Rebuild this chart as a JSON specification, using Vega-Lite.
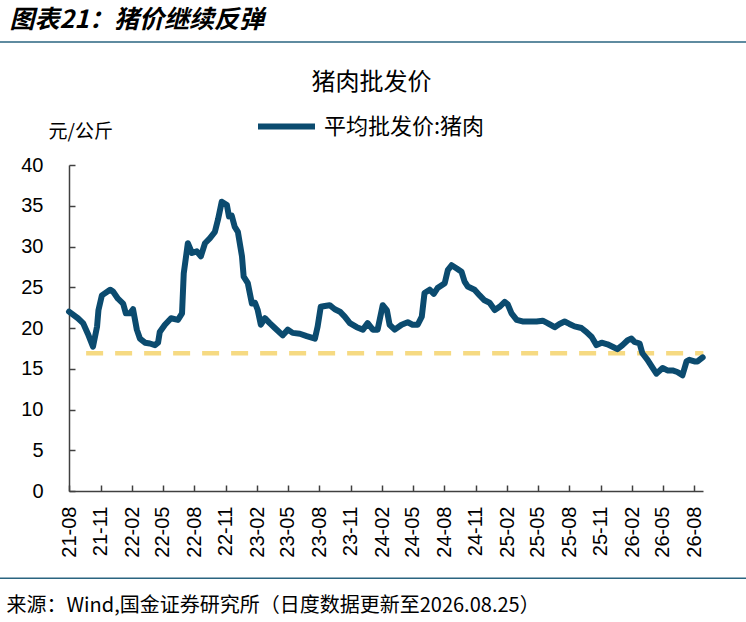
{
  "$schema": "https://vega.github.io/schema/vega-lite/v6.json",
  "width": 634,
  "height": 326,
  "autosize": "none",
  "padding": {"left": 69, "top": 165, "right": 43, "bottom": 131},
  "background": "white",
  "datasets": {
    "pork": [
      {"date": "2021-08-01", "price": 22.0}, {"date": "2021-08-27", "price": 21.2},
      {"date": "2021-09-11", "price": 20.6}, {"date": "2021-09-25", "price": 19.3},
      {"date": "2021-10-10", "price": 17.7}, {"date": "2021-10-22", "price": 20.2},
      {"date": "2021-10-26", "price": 22.2}, {"date": "2021-11-05", "price": 24.0},
      {"date": "2021-11-29", "price": 24.7}, {"date": "2021-12-07", "price": 24.5},
      {"date": "2021-12-22", "price": 23.6}, {"date": "2022-01-06", "price": 23.0},
      {"date": "2022-01-14", "price": 21.8}, {"date": "2022-01-26", "price": 21.8},
      {"date": "2022-02-04", "price": 22.3}, {"date": "2022-02-15", "price": 19.8},
      {"date": "2022-02-24", "price": 18.7}, {"date": "2022-03-11", "price": 18.2},
      {"date": "2022-03-25", "price": 18.1}, {"date": "2022-04-09", "price": 17.9},
      {"date": "2022-04-18", "price": 18.2}, {"date": "2022-04-23", "price": 19.5},
      {"date": "2022-05-08", "price": 20.4}, {"date": "2022-05-26", "price": 21.2},
      {"date": "2022-06-15", "price": 21.0}, {"date": "2022-06-27", "price": 21.8},
      {"date": "2022-07-02", "price": 26.7}, {"date": "2022-07-14", "price": 30.4},
      {"date": "2022-07-26", "price": 29.2}, {"date": "2022-08-09", "price": 29.4},
      {"date": "2022-08-21", "price": 28.8}, {"date": "2022-09-02", "price": 30.4},
      {"date": "2022-09-16", "price": 31.0}, {"date": "2022-10-01", "price": 31.8},
      {"date": "2022-10-10", "price": 33.3}, {"date": "2022-10-21", "price": 35.5},
      {"date": "2022-11-05", "price": 35.1}, {"date": "2022-11-11", "price": 33.7},
      {"date": "2022-11-19", "price": 33.8}, {"date": "2022-11-28", "price": 32.4},
      {"date": "2022-12-07", "price": 31.8}, {"date": "2022-12-19", "price": 28.8},
      {"date": "2022-12-24", "price": 26.3}, {"date": "2023-01-05", "price": 25.5},
      {"date": "2023-01-17", "price": 23.0}, {"date": "2023-01-26", "price": 23.1},
      {"date": "2023-02-03", "price": 22.2}, {"date": "2023-02-12", "price": 20.4},
      {"date": "2023-02-24", "price": 21.2}, {"date": "2023-03-10", "price": 20.6},
      {"date": "2023-03-25", "price": 20.0}, {"date": "2023-04-17", "price": 19.1},
      {"date": "2023-05-02", "price": 19.8}, {"date": "2023-05-16", "price": 19.4},
      {"date": "2023-06-06", "price": 19.3}, {"date": "2023-06-26", "price": 19.0},
      {"date": "2023-07-20", "price": 18.7}, {"date": "2023-07-28", "price": 20.2},
      {"date": "2023-08-06", "price": 22.6}, {"date": "2023-08-18", "price": 22.7},
      {"date": "2023-09-01", "price": 22.8}, {"date": "2023-09-16", "price": 22.3},
      {"date": "2023-10-01", "price": 22.0}, {"date": "2023-10-15", "price": 21.4},
      {"date": "2023-10-30", "price": 20.6}, {"date": "2023-11-19", "price": 20.1},
      {"date": "2023-12-07", "price": 19.8}, {"date": "2023-12-21", "price": 20.6},
      {"date": "2024-01-05", "price": 19.8}, {"date": "2024-01-19", "price": 19.8},
      {"date": "2024-02-03", "price": 22.8}, {"date": "2024-02-15", "price": 22.2},
      {"date": "2024-02-23", "price": 20.4}, {"date": "2024-03-09", "price": 19.8},
      {"date": "2024-03-29", "price": 20.4}, {"date": "2024-04-16", "price": 20.7},
      {"date": "2024-04-30", "price": 20.4}, {"date": "2024-05-15", "price": 20.4},
      {"date": "2024-05-27", "price": 21.4}, {"date": "2024-06-04", "price": 24.3},
      {"date": "2024-06-19", "price": 24.7}, {"date": "2024-07-01", "price": 24.2},
      {"date": "2024-07-12", "price": 24.9}, {"date": "2024-08-02", "price": 25.5},
      {"date": "2024-08-11", "price": 27.1}, {"date": "2024-08-22", "price": 27.7},
      {"date": "2024-09-06", "price": 27.3}, {"date": "2024-09-20", "price": 26.9},
      {"date": "2024-09-29", "price": 25.7}, {"date": "2024-10-08", "price": 25.1},
      {"date": "2024-10-28", "price": 24.7}, {"date": "2024-11-12", "price": 24.0},
      {"date": "2024-11-26", "price": 23.4}, {"date": "2024-12-11", "price": 23.1},
      {"date": "2024-12-26", "price": 22.2}, {"date": "2025-01-09", "price": 22.6},
      {"date": "2025-01-24", "price": 23.2}, {"date": "2025-02-02", "price": 22.9},
      {"date": "2025-02-13", "price": 21.8}, {"date": "2025-02-28", "price": 21.0},
      {"date": "2025-03-17", "price": 20.8}, {"date": "2025-04-07", "price": 20.8},
      {"date": "2025-04-27", "price": 20.8}, {"date": "2025-05-15", "price": 20.9},
      {"date": "2025-05-29", "price": 20.6}, {"date": "2025-06-19", "price": 20.1},
      {"date": "2025-07-03", "price": 20.5}, {"date": "2025-07-18", "price": 20.8},
      {"date": "2025-08-01", "price": 20.5}, {"date": "2025-08-16", "price": 20.2},
      {"date": "2025-09-05", "price": 20.0}, {"date": "2025-09-20", "price": 19.5},
      {"date": "2025-10-05", "price": 18.9}, {"date": "2025-10-19", "price": 17.9},
      {"date": "2025-11-03", "price": 18.2}, {"date": "2025-11-20", "price": 18.0},
      {"date": "2025-12-05", "price": 17.7}, {"date": "2025-12-19", "price": 17.4},
      {"date": "2026-01-03", "price": 17.9}, {"date": "2026-01-18", "price": 18.5},
      {"date": "2026-01-29", "price": 18.7}, {"date": "2026-02-07", "price": 18.3},
      {"date": "2026-02-22", "price": 18.1}, {"date": "2026-03-02", "price": 16.9},
      {"date": "2026-03-17", "price": 16.1}, {"date": "2026-04-01", "price": 15.1},
      {"date": "2026-04-12", "price": 14.4}, {"date": "2026-04-30", "price": 15.1},
      {"date": "2026-05-14", "price": 14.8}, {"date": "2026-05-29", "price": 14.8},
      {"date": "2026-06-12", "price": 14.6}, {"date": "2026-06-27", "price": 14.2},
      {"date": "2026-07-09", "price": 15.9}, {"date": "2026-07-17", "price": 16.1},
      {"date": "2026-08-01", "price": 15.9}, {"date": "2026-08-10", "price": 15.9},
      {"date": "2026-08-25", "price": 16.4}
    ],
    "level": [
      {"start": "2021-09-20", "end": "2026-08-27", "level": 16.9}
    ]
  },
  "layer": [
    {
      "data": {"values": [{}]},
      "mark": {"type": "rule", "color": "#2A6480", "strokeWidth": 1.5},
      "encoding": {
        "x": {
          "datum": {"year": 2020, "month": 12, "date": 1, "utc": true},
          "type": "temporal",
          "scale": {"type": "utc", "domain": [{"year": 2021, "month": 8, "date": 1, "utc": true}, {"year": 2026, "month": 8, "date": 26, "utc": true}]},
          "axis": {
            "orient": "top",
            "domain": false,
            "ticks": false,
            "labels": false,
            "grid": false,
            "title": "图表21：猪价继续反弹",
            "titleX": -60,
            "titleY": -146,
            "titleAlign": "left",
            "titleBaseline": "middle",
            "titleAngle": 0,
            "titleLimit": 0,
            "titleFont": "Noto Sans CJK SC",
            "titleFontSize": 25,
            "titleFontWeight": "bold",
            "titleFontStyle": "italic",
            "titleColor": "#000000"
          }
        },
        "x2": {"datum": {"year": 2027, "month": 2, "date": 1, "utc": true}},
        "y": {
          "datum": 55.1,
          "type": "quantitative",
          "scale": {"domain": [0, 40], "nice": false},
          "axis": null
        }
      }
    },
    {
      "data": {"values": [{}]},
      "mark": {"type": "rule", "color": "#2A6480", "strokeWidth": 1.5},
      "encoding": {
        "x": {
          "datum": {"year": 2020, "month": 12, "date": 1, "utc": true},
          "type": "temporal",
          "scale": {"type": "utc", "domain": [{"year": 2021, "month": 8, "date": 1, "utc": true}, {"year": 2026, "month": 8, "date": 26, "utc": true}]},
          "axis": null
        },
        "x2": {"datum": {"year": 2027, "month": 2, "date": 1, "utc": true}},
        "y": {
          "datum": -10.7,
          "type": "quantitative",
          "scale": {"domain": [0, 40], "nice": false},
          "axis": null
        }
      }
    },
    {
      "data": {"name": "level"},
      "mark": {"type": "rule", "color": "#F6DA82", "strokeWidth": 4.5, "strokeDash": [17, 12]},
      "encoding": {
        "x": {
          "field": "start",
          "type": "temporal",
          "scale": {"type": "utc", "domain": [{"year": 2021, "month": 8, "date": 1, "utc": true}, {"year": 2026, "month": 8, "date": 26, "utc": true}]},
          "axis": null
        },
        "x2": {"field": "end"},
        "y": {
          "field": "level",
          "type": "quantitative",
          "scale": {"domain": [0, 40], "nice": false},
          "axis": {
            "orient": "right",
            "domain": false,
            "ticks": false,
            "labels": false,
            "grid": false,
            "title": "猪肉批发价",
            "titleX": -332,
            "titleY": -83,
            "titleAlign": "center",
            "titleBaseline": "middle",
            "titleAngle": 0,
            "titleFont": "Noto Sans CJK SC",
            "titleFontSize": 24,
            "titleFontWeight": "normal",
            "titleColor": "#000000"
          }
        }
      }
    },
    {
      "data": {"name": "pork"},
      "mark": {"type": "line", "strokeWidth": 6, "strokeJoin": "round", "strokeCap": "round"},
      "encoding": {
        "x": {
          "field": "date",
          "type": "temporal",
          "scale": {"type": "utc", "domain": [{"year": 2021, "month": 8, "date": 1, "utc": true}, {"year": 2026, "month": 8, "date": 26, "utc": true}]},
          "axis": {
            "orient": "bottom",
            "values": [
              {"year": 2021, "month": 8, "date": 1, "utc": true},
              {"year": 2021, "month": 11, "date": 1, "utc": true},
              {"year": 2022, "month": 2, "date": 1, "utc": true},
              {"year": 2022, "month": 5, "date": 1, "utc": true},
              {"year": 2022, "month": 8, "date": 1, "utc": true},
              {"year": 2022, "month": 11, "date": 1, "utc": true},
              {"year": 2023, "month": 2, "date": 1, "utc": true},
              {"year": 2023, "month": 5, "date": 1, "utc": true},
              {"year": 2023, "month": 8, "date": 1, "utc": true},
              {"year": 2023, "month": 11, "date": 1, "utc": true},
              {"year": 2024, "month": 2, "date": 1, "utc": true},
              {"year": 2024, "month": 5, "date": 1, "utc": true},
              {"year": 2024, "month": 8, "date": 1, "utc": true},
              {"year": 2024, "month": 11, "date": 1, "utc": true},
              {"year": 2025, "month": 2, "date": 1, "utc": true},
              {"year": 2025, "month": 5, "date": 1, "utc": true},
              {"year": 2025, "month": 8, "date": 1, "utc": true},
              {"year": 2025, "month": 11, "date": 1, "utc": true},
              {"year": 2026, "month": 2, "date": 1, "utc": true},
              {"year": 2026, "month": 5, "date": 1, "utc": true},
              {"year": 2026, "month": 8, "date": 1, "utc": true}
            ],
            "format": "%y-%m",
            "labelAngle": 270,
            "labelFont": "Liberation Sans",
            "labelFontSize": 20,
            "labelColor": "#000000",
            "labelPadding": 21,
            "labelOverlap": false,
            "labelFlush": false,
            "grid": false,
            "domainColor": "#404040",
            "domainWidth": 1.5,
            "tickColor": "#404040",
            "tickWidth": 1.5,
            "tickSize": -6,
            "title": "来源：Wind,国金证券研究所（日度数据更新至2026.08.25）",
            "titleX": -63,
            "titleY": 114,
            "titleAlign": "left",
            "titleBaseline": "middle",
            "titleLimit": 0,
            "titleFont": "Noto Sans CJK SC",
            "titleFontSize": 20,
            "titleFontWeight": "normal",
            "titleColor": "#000000"
          }
        },
        "y": {
          "field": "price",
          "type": "quantitative",
          "scale": {"domain": [0, 40], "nice": false},
          "axis": {
            "orient": "left",
            "values": [0, 5, 10, 15, 20, 25, 30, 35, 40],
            "labelFont": "Liberation Sans",
            "labelFontSize": 20,
            "labelColor": "#000000",
            "labelPadding": 32,
            "grid": false,
            "domainColor": "#404040",
            "domainWidth": 1.5,
            "tickColor": "#404040",
            "tickWidth": 1.5,
            "tickSize": -6,
            "title": "元/公斤",
            "titleAngle": 0,
            "titleX": -21,
            "titleY": -34,
            "titleAlign": "left",
            "titleBaseline": "middle",
            "titleFont": "Noto Sans CJK SC",
            "titleFontSize": 19,
            "titleFontWeight": "normal",
            "titleColor": "#000000"
          }
        },
        "color": {
          "datum": "平均批发价:猪肉",
          "scale": {"range": ["#0B4B6F"]},
          "legend": {
            "orient": "none",
            "legendX": 186,
            "legendY": -70,
            "title": null,
            "padding": 0,
            "symbolType": "stroke",
            "symbolSize": 3249,
            "symbolStrokeWidth": 6,
            "labelOffset": 6,
            "labelLimit": 0,
            "labelFont": "Noto Sans CJK SC",
            "labelFontSize": 22,
            "labelColor": "#000000"
          }
        }
      }
    }
  ],
  "resolve": {"axis": {"x": "independent", "y": "independent"}},
  "config": {
    "view": {"stroke": null}
  }
}
